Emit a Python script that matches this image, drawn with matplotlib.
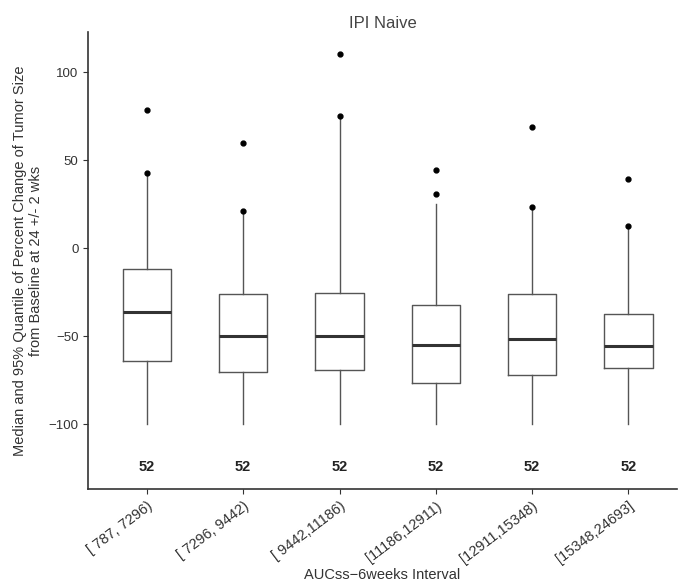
import numpy as np
import matplotlib.pyplot as plt

plt.rcParams['font.family'] = ['Liberation Sans', 'DejaVu Sans']

labels = ['[ 787, 7296)', '[ 7296, 9442)', '[ 9442,11186)',
          '[11186,12911)', '[12911,15348)', '[15348,24693]']
q1 = [-64, -70.5, -69, -76.5, -72, -68]
med = [-36, -50, -50, -55, -51.5, -55.5]
q3 = [-12, -26, -25.5, -32.5, -26, -37.5]
wlo = [-100, -100, -100, -100, -100, -100]
whi = [42.5, 21, 75, 25, 23.5, 12.5]
dots = [[42.5, 78.5], [21, 60], [75, 110.5], [31, 44.5], [23.5, 69], [12.5, 39.5]]
counts = [52, 52, 52, 52, 52, 52]

stats = []
for i in range(len(labels)):
    stats.append(dict(med=med[i], q1=q1[i], q3=q3[i],
                      whislo=wlo[i], whishi=whi[i], fliers=dots[i]))

fig = plt.figure(figsize=(6.78, 5.88), dpi=100)
ax = fig.add_axes([0.13, 0.168, 0.868, 0.778])

pos = np.arange(1, len(labels) + 1)
ax.bxp(stats, positions=pos, widths=0.5, showcaps=False,
       boxprops=dict(color='#555555', linewidth=1.0),
       whiskerprops=dict(color='#555555', linewidth=1.0),
       medianprops=dict(color='#333333', linewidth=2.2),
       flierprops=dict(marker='o', markersize=3.5, markerfacecolor='black',
                       markeredgecolor='black'))

for x, n in zip(pos, counts):
    ax.text(x, -124.5, str(n), ha='center', va='center', fontsize=10.5,
            fontweight='bold', color='#222222')

ax.set_xlim(0.39, 6.5)
ax.set_ylim(-137, 123)
ax.set_yticks([-100, -50, 0, 50, 100])
ax.set_xticks(pos)
ax.set_xticklabels(labels, rotation=37, ha='right', rotation_mode='anchor',
                   fontsize=10.5, color='#333333')
ax.tick_params(axis='y', labelsize=9.5, labelcolor='#333333', colors='#333333')
ax.tick_params(axis='x', colors='#333333')
for s in ['top', 'right']:
    ax.spines[s].set_visible(False)
for s in ['left', 'bottom']:
    ax.spines[s].set_color('#333333')
    ax.spines[s].set_linewidth(1.2)

ax.set_title('IPI Naive', fontsize=12, color='#444444', pad=3)
ax.set_ylabel('Median and 95% Quantile of Percent Change of Tumor Size\n'
              'from Baseline at 24 +/- 2 wks', fontsize=10.5, color='#333333')
ax.set_xlabel('AUCss\u22126weeks Interval', fontsize=10.5, color='#333333',
              labelpad=1)

fig.savefig('out.png', dpi=100)
